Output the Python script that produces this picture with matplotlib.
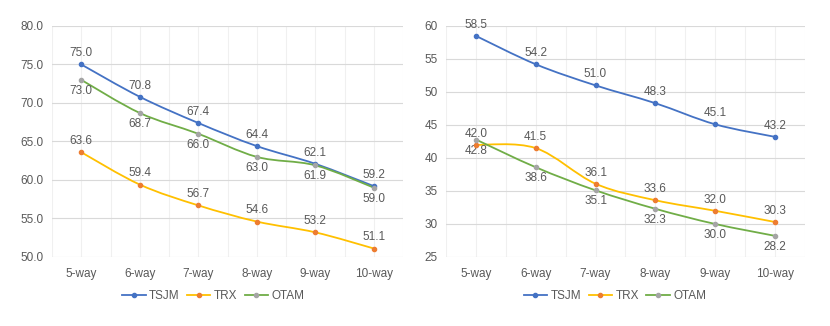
import matplotlib.pyplot as plt
import numpy as np
from matplotlib.path import Path
from matplotlib.patches import PathPatch
from matplotlib.lines import Line2D

categories = ['5-way', '6-way', '7-way', '8-way', '9-way', '10-way']
series_names = ['TSJM', 'TRX', 'OTAM']

left_tsjm = [75.0, 70.8, 67.4, 64.4, 62.1, 59.2]
left_trx = [63.6, 59.4, 56.7, 54.6, 53.2, 51.1]
left_otam = [73.0, 68.7, 66.0, 63.0, 61.9, 59.0]

right_tsjm = [58.5, 54.2, 51.0, 48.3, 45.1, 43.2]
right_trx = [42.0, 41.5, 36.1, 33.6, 32.0, 30.3]
right_otam = [42.8, 38.6, 35.1, 32.3, 30.0, 28.2]

line_colors = ['#4472C4', '#FFC000', '#70AD47']
marker_colors = ['#4472C4', '#ED7D31', '#A5A5A5']
label_side = [1, 1, -1]  # above / above / below
text_color = '#595959'

plt.rcParams['font.family'] = ['Liberation Sans', 'DejaVu Sans']


def smooth_path(ax, xs, ys):
    # excel-like smoothed line: catmull-rom bezier built in display space
    pts = ax.transData.transform(np.column_stack([xs, ys]))
    n = len(pts)
    verts = [pts[0]]
    codes = [Path.MOVETO]
    for i in range(n - 1):
        p0 = pts[i - 1] if i > 0 else pts[i]
        p1 = pts[i]
        p2 = pts[i + 1]
        p3 = pts[i + 2] if i + 2 < n else pts[i + 1]
        c1 = p1 + (p2 - p0) / 6.0
        c2 = p2 - (p3 - p1) / 6.0
        verts += [c1, c2, p2]
        codes += [Path.CURVE4] * 3
    verts = ax.transData.inverted().transform(np.array(verts))
    return Path(verts, codes)


def draw_panel(ax, data, ylim, ystep, fmt):
    x = np.arange(len(categories))
    ax.set_xlim(-0.5, len(categories) - 0.5)
    ax.set_ylim(*ylim)
    ax.set_yticks(np.arange(ylim[0], ylim[1] + 0.01, ystep))
    ax.yaxis.set_major_formatter(plt.FormatStrFormatter(fmt))
    ax.set_xticks(x)
    ax.set_xticklabels(categories)
    ax.set_xticks(np.arange(-0.5, len(categories), 1.0), minor=True)
    ax.tick_params(axis='both', which='both', length=0, colors=text_color, labelsize=8.5)
    ax.tick_params(axis='x', pad=8)
    ax.tick_params(axis='y', pad=6)
    ax.grid(axis='y', color='#D9D9D9', linewidth=0.8)
    ax.grid(axis='x', which='both', color='#F0F0F0', linewidth=0.8)
    ax.set_axisbelow(True)
    for s in ax.spines.values():
        s.set_visible(False)

    fig.canvas.draw()
    for vals, lc, mc, side in zip(data, line_colors, marker_colors, label_side):
        patch = PathPatch(smooth_path(ax, x, vals), facecolor='none', edgecolor=lc, linewidth=1.3, zorder=3)
        ax.add_patch(patch)
        ax.plot(x, vals, linestyle='none', marker='o', markersize=3.0, color=mc, zorder=4)
        for xi, v in zip(x, vals):
            ax.annotate('%.1f' % v, (xi, v), xytext=(0, 8 * side), textcoords='offset points',
                        ha='center', va='center', fontsize=8.5, color=text_color)

    handles = [Line2D([0], [0], color=lc, linewidth=1.3, marker='o', markersize=3.0,
                      markerfacecolor=mc, markeredgecolor=mc) for lc, mc in zip(line_colors, marker_colors)]
    return handles


fig = plt.figure(figsize=(8.3, 3.26), dpi=100)
ax1 = fig.add_axes([0.0627, 0.2117, 0.423, 0.7086])
ax2 = fig.add_axes([0.5373, 0.2117, 0.4325, 0.7086])

h = draw_panel(ax1, [left_tsjm, left_trx, left_otam], (50, 80), 5, '%.1f')
draw_panel(ax2, [right_tsjm, right_trx, right_otam], (25, 60), 5, '%d')

for cx in [0.257, 0.741]:
    leg = fig.legend(h, series_names, loc='center', bbox_to_anchor=(cx, 0.092), ncol=3, frameon=False,
                     fontsize=8.5, handlelength=2.0, handletextpad=0.3, columnspacing=0.6)
    for t in leg.get_texts():
        t.set_color(text_color)

fig.savefig('out.png', dpi=100)
